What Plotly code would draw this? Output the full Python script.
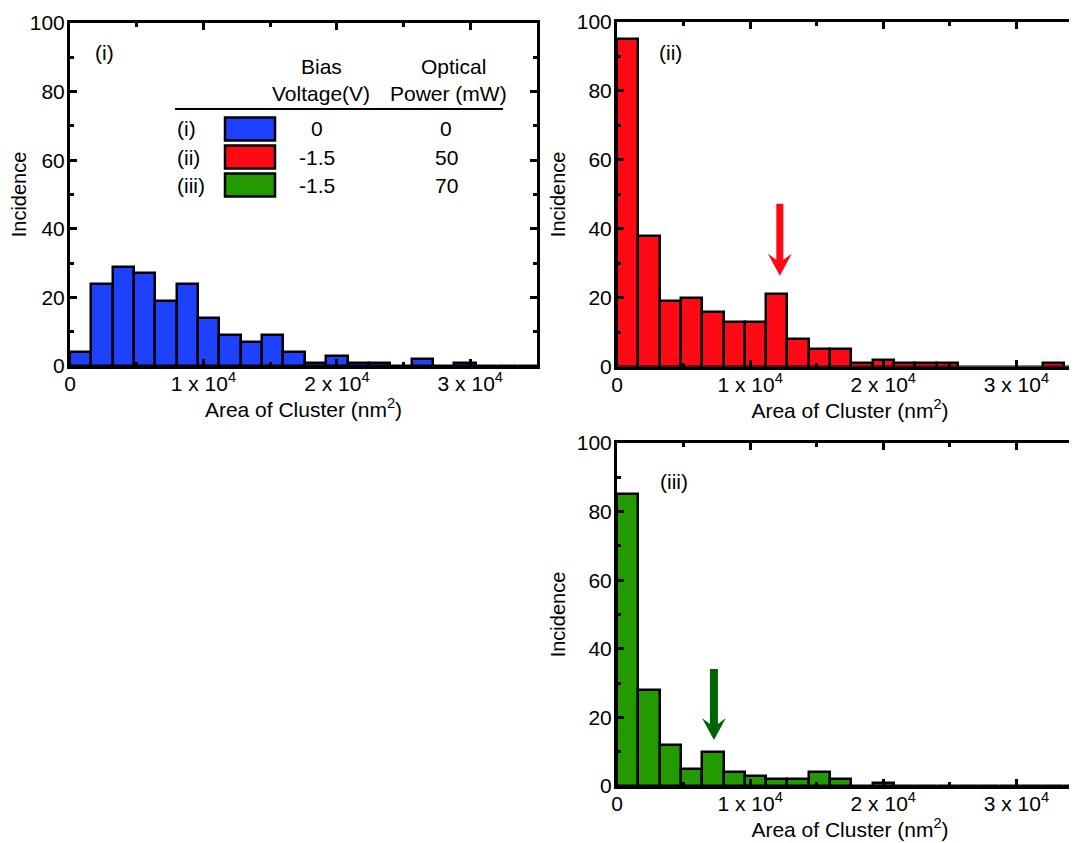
import plotly.graph_objects as go

W, H = 1077, 843
OFF = 8  # the page body margin shifts the figure by 8 px

# ---- data ----
bin_width = 1600
bin_starts = [0, 1600, 3200, 4800, 6400, 8000, 9600, 11200, 12800, 14400, 16000,
              17600, 19200, 20800, 22400, 24000, 25600, 27200, 28800, 30400, 32000, 33600]
counts_i = [4, 24, 29, 27, 19, 24, 14, 9, 7, 9, 4, 1, 3, 1, 1, 0, 2, 0, 1, 0, 0, 0]
counts_ii = [95, 38, 19, 20, 16, 13, 13, 21, 8, 5, 5, 1, 2, 1, 1, 1, 0, 0, 0, 0, 1, 0]
counts_iii = [85, 28, 12, 5, 10, 4, 3, 2, 2, 4, 2, 0, 1, 0, 0, 0, 0, 0, 0, 0, 0, 0]

x_tickvals = [0, 10000, 20000, 30000]
x_ticktext = ["0", "1 x 10<sup>4</sup>", "2 x 10<sup>4</sup>", "3 x 10<sup>4</sup>"]

legend_labels = ["(i)", "(ii)", "(iii)"]
bias_voltage = ["0", "-1.5", "-1.5"]
optical_power = ["0", "50", "70"]

arrow_ii = (12230, 26.4)   # (x, y) of arrow tip
arrow_iii = (7280, 13.4)

colors = ["#1E40FF", "#FF0A14", "#229A00"]
arrow_colors = ["#FF0A14", "#006400"]

FONT = "Liberation Sans, Arial, Helvetica, sans-serif"


def px(x):
    return (x - OFF) / W


def py(y):
    return 1 - (y - OFF) / H


fig = go.Figure()

centers = [s + bin_width / 2 for s in bin_starts]
for i, (cnt, col) in enumerate(zip([counts_i, counts_ii, counts_iii], colors)):
    suffix = "" if i == 0 else str(i + 1)
    fig.add_trace(go.Bar(
        x=centers, y=cnt, width=bin_width,
        marker=dict(color=col, line=dict(color="black", width=2.5)),
        xaxis="x" + suffix, yaxis="y" + suffix, showlegend=False,
    ))

axis_common = dict(
    showline=True, linewidth=3, linecolor="black", mirror="ticks",
    ticks="inside", ticklen=7, tickwidth=2.5, tickcolor="black",
    showgrid=False, zeroline=False, automargin=False,
    tickfont=dict(family=FONT, size=21, color="black"),
)

xdef = dict(axis_common, tickvals=x_tickvals, ticktext=x_ticktext, ticklabelstandoff=-3,
            range=[0, 35000],
            minor=dict(tickmode="linear", tick0=0, dtick=5000, ticklen=4,
                       tickwidth=2.5, tickcolor="black", ticks="inside"),
            title=dict(text="Area of Cluster (nm<sup>2</sup>)",
                       font=dict(family=FONT, size=21, color="black"), standoff=0))
ydef = dict(axis_common, range=[0, 100], tickvals=[0, 20, 40, 60, 80, 100],
            ticklabelstandoff=-2,
            minor=dict(tickmode="linear", tick0=0, dtick=10, ticklen=4,
                       tickwidth=2.5, tickcolor="black", ticks="inside"),
            title=dict(text="Incidence",
                       font=dict(family=FONT, size=20, color="black"), standoff=6))

fig.update_layout(
    width=W, height=H, margin=dict(l=0, r=0, t=0, b=0, autoexpand=False),
    paper_bgcolor="white", plot_bgcolor="white", bargap=0,
    font=dict(family=FONT, color="black"),
    xaxis=dict(xdef, domain=[px(70), px(537)], anchor="y"),
    yaxis=dict(ydef, domain=[py(366), py(23)], anchor="x"),
    xaxis2=dict(xdef, domain=[px(617), px(1083)], anchor="y2"),
    yaxis2=dict(ydef, domain=[py(366.7), py(22)], anchor="x2"),
    xaxis3=dict(xdef, domain=[px(617), px(1083)], anchor="y3"),
    yaxis3=dict(ydef, domain=[py(786), py(443)], anchor="x3"),
)

annotations = []
# panel labels
for lbl, (x, y) in zip(["(i)", "(ii)", "(iii)"], [(93, 52), (657, 52), (658, 482)]):
    annotations.append(dict(text=lbl, x=px(x), y=py(y), xref="paper", yref="paper",
                            xanchor="left", yanchor="middle", showarrow=False,
                            font=dict(family=FONT, size=21, color="black")))

# legend table headers
for txt, x, y in [("Bias", 321, 66), ("Voltage(V)", 321, 93),
                  ("Optical", 453, 66), ("Power (mW)", 448, 93)]:
    annotations.append(dict(text=txt, x=px(x), y=py(y), xref="paper", yref="paper",
                            xanchor="center", yanchor="middle", showarrow=False,
                            font=dict(family=FONT, size=21, color="black")))

row_y = [129, 157, 185]
shapes = [dict(type="line", xref="paper", yref="paper",
               x0=px(175), x1=px(503), y0=py(109), y1=py(109),
               line=dict(color="black", width=2))]
for lbl, bv, op, col, y in zip(legend_labels, bias_voltage, optical_power, colors, row_y):
    annotations.append(dict(text=lbl, x=px(175), y=py(y), xref="paper", yref="paper",
                            xanchor="left", yanchor="middle", showarrow=False,
                            font=dict(family=FONT, size=21, color="black")))
    annotations.append(dict(text=bv, x=px(317), y=py(y), xref="paper", yref="paper",
                            xanchor="center", yanchor="middle", showarrow=False,
                            font=dict(family=FONT, size=21, color="black")))
    annotations.append(dict(text=op, x=px(446), y=py(y), xref="paper", yref="paper",
                            xanchor="center", yanchor="middle", showarrow=False,
                            font=dict(family=FONT, size=21, color="black")))
    shapes.append(dict(type="rect", xref="paper", yref="paper",
                       x0=px(225), x1=px(275), y0=py(y - 11.5), y1=py(y + 11.5),
                       fillcolor=col, line=dict(color="black", width=2.5)))


def arrow_path(shaft_hw, head_hw, head_len, join, total):
    # pixel path relative to tip (0, 0); positive y goes up
    return (f"M {-shaft_hw},{total} L {-shaft_hw},{join} L {-head_hw},{head_len} "
            f"L 0,0 L {head_hw},{head_len} L {shaft_hw},{join} L {shaft_hw},{total} Z")


for (ax_, ay_), col, xr, yr, total, shw in [
        (arrow_ii, arrow_colors[0], "x2", "y2", 72, 3.5),
        (arrow_iii, arrow_colors[1], "x3", "y3", 71, 4)]:
    shapes.append(dict(type="path", xref=xr, yref=yr,
                       xsizemode="pixel", ysizemode="pixel",
                       xanchor=ax_, yanchor=ay_,
                       path=arrow_path(shw, 12, 22, 16, total),
                       fillcolor=col, line=dict(color=col, width=0)))

fig.update_layout(annotations=annotations, shapes=shapes)

fig.write_html("out.html")
